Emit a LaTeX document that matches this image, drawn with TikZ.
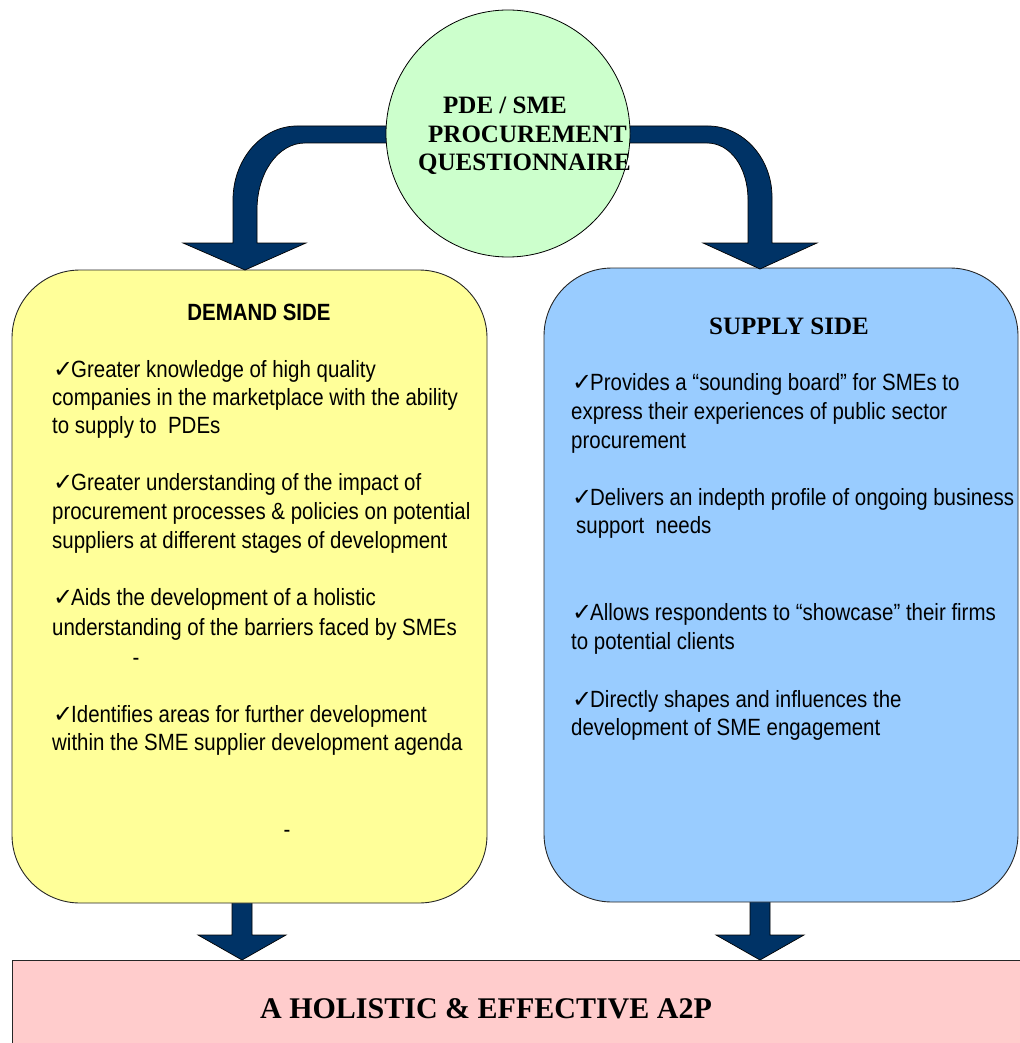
\documentclass[tikz,border=0pt]{standalone}
\usepackage{fontspec}
\setmainfont{Liberation Serif}
\newfontfamily\bodyfont[FakeStretch=0.87]{Liberation Sans}
\newfontfamily\checkfont{DejaVu Sans}
\newcommand{\chkmark}{\makebox[18pt][l]{\checkfont\fontsize{24}{24}\selectfont ✓}}
\definecolor{navy}{HTML}{003366}
\definecolor{demandfill}{HTML}{FFFF99}
\definecolor{supplyfill}{HTML}{99CCFF}
\definecolor{qfill}{HTML}{CCFFCC}
\definecolor{resultfill}{HTML}{FFCCCC}
\begin{document}
\begin{tikzpicture}[x=1pt,y=-1pt,
  blockarrow/.style={fill=navy,draw=black,line width=0.7pt,line join=miter},
  sidebox/.style={draw=black!85,line width=0.9pt,rounded corners=68pt},
  body/.style={font=\bodyfont\fontsize{23.5}{28}\selectfont,anchor=base west,inner sep=0pt},
  serifhead/.style={font=\bfseries\fontsize{25}{28}\selectfont,anchor=base west,inner sep=0pt},
  sidehead/.style={inner sep=0pt,anchor=base}]
\useasboundingbox (0,0) rectangle (1019,1043);

% arrows from the side boxes down to the result bar
\draw[blockarrow] (232,890) -- (232,935) -- (198,935) -- (242,960) -- (286,935)
  -- (252,935) -- (252,890) -- cycle;
\draw[blockarrow] (750,890) -- (750,935) -- (716,935) -- (760,960) -- (804,935)
  -- (770,935) -- (770,890) -- cycle;

% result bar
\fill[resultfill] (12,960) rectangle (1030,1060);
\draw[draw=black!85,line width=0.9pt] (12,1060) -- (12,960) -- (1030,960);
\node[font=\bfseries\fontsize{30}{34}\selectfont,inner sep=0pt,anchor=base] (result) at (486,1018)
  {A HOLISTIC \& EFFECTIVE A2P};

% side boxes
\path[sidebox,fill=demandfill] (12,270) rectangle (487,903);
\node (demand) at (249.5,586.5) [minimum width=475pt,minimum height=633pt] {};
\path[sidebox,fill=supplyfill] (544,268) rectangle (1018,902);
\node (supply) at (781,585) [minimum width=474pt,minimum height=634pt] {};

% curved arrows out of the questionnaire
\draw[blockarrow] (420,126) -- (297,126) .. controls (262,126) and (233,159) .. (233,200)
  -- (233,243) -- (183,243) -- (245,270) -- (306,243) -- (257,243) -- (257,210)
  .. controls (257,173) and (278,143) .. (305,143) -- (420,143) -- cycle;
\draw[blockarrow] (600,126) -- (708,126) .. controls (743,126) and (772,158) .. (772,197)
  -- (772,243) -- (817,243) -- (760,269) -- (703,243) -- (748,243) -- (748,200)
  .. controls (748,167) and (730,143) .. (707,143) -- (600,143) -- cycle;

% questionnaire
\draw[fill=qfill,draw=black,line width=0.8pt] (508,133.5) ellipse [x radius=122pt,y radius=123.5pt];
\node (q) at (508,133.5) [minimum size=10pt,inner sep=0pt] {};
\node[serifhead] (q1) at (443,114) {PDE / SME};
\node[serifhead] (q2) at (428,143) {PROCUREMENT};
\node[serifhead] (q3) at (418,171) {QUESTIONNAIRE};

% demand side
\node[sidehead,font=\bodyfont\bfseries\fontsize{23.5}{28}\selectfont] (dh) at (259,320) {DEMAND SIDE};
\node[body] (d1) at (53,377) {\chkmark Greater knowledge of high quality};
\node[body] (d2) at (52,405) {companies in the marketplace with the ability};
\node[body] (d3) at (52,433) {to supply to \ PDEs};
\node[body] (d4) at (53,490) {\chkmark Greater understanding of the impact of};
\node[body] (d5) at (52,519) {procurement processes \& policies on potential};
\node[body] (d6) at (52,548) {suppliers at different stages of development};
\node[body] (d7) at (53,605) {\chkmark Aids the development of a holistic};
\node[body] (d8) at (52,635) {understanding of the barriers faced by SMEs};
\node[body,anchor=base] (d9) at (136,665) {-};
\node[body] (d10) at (53,722) {\chkmark Identifies areas for further development};
\node[body] (d11) at (52,750) {within the SME supplier development agenda};
\node[body,anchor=base] (d12) at (287,837) {-};

% supply side
\node[sidehead,font=\bfseries\fontsize{25}{28}\selectfont] (sh) at (789,334) {SUPPLY SIDE};
\node[body] (s1) at (572,390) {\chkmark Provides a “sounding board” for SMEs to};
\node[body] (s2) at (571,419) {express their experiences of public sector};
\node[body] (s3) at (571,448) {procurement};
\node[body] (s4) at (572,505) {\chkmark Delivers an indepth profile of ongoing business};
\node[body] (s5) at (576,533) {support \ needs};
\node[body] (s6) at (572,620) {\chkmark Allows respondents to “showcase” their firms};
\node[body] (s7) at (571,649) {to potential clients};
\node[body] (s8) at (572,707) {\chkmark Directly shapes and influences the};
\node[body] (s9) at (571,735) {development of SME engagement};
\end{tikzpicture}
\end{document}
